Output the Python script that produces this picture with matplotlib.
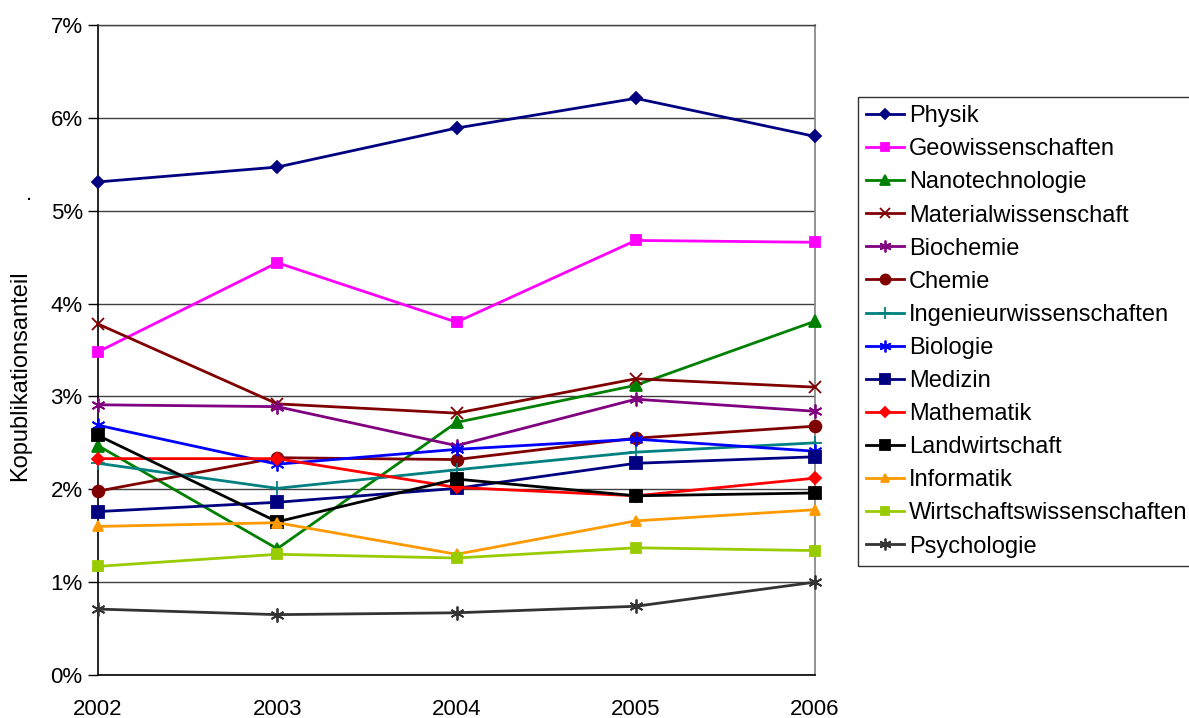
import matplotlib
matplotlib.use("Agg")
import matplotlib.pyplot as plt
from matplotlib.ticker import FuncFormatter

plt.rcParams['font.family'] = ['Liberation Sans', 'DejaVu Sans']

years = [2002, 2003, 2004, 2005, 2006]

physik = [5.31, 5.47, 5.89, 6.21, 5.80]
geowissenschaften = [3.48, 4.44, 3.80, 4.68, 4.66]
nanotechnologie = [2.47, 1.36, 2.72, 3.12, 3.81]
materialwissenschaft = [3.78, 2.92, 2.82, 3.19, 3.10]
biochemie = [2.91, 2.89, 2.47, 2.97, 2.84]
chemie = [1.98, 2.34, 2.32, 2.55, 2.68]
ingenieurwissenschaften = [2.28, 2.01, 2.21, 2.40, 2.50]
biologie = [2.69, 2.27, 2.43, 2.54, 2.41]
medizin = [1.76, 1.86, 2.01, 2.28, 2.35]
mathematik = [2.33, 2.33, 2.02, 1.93, 2.12]
landwirtschaft = [2.58, 1.65, 2.11, 1.93, 1.96]
informatik = [1.60, 1.64, 1.30, 1.66, 1.78]
wirtschaftswissenschaften = [1.17, 1.30, 1.26, 1.37, 1.34]
psychologie = [0.71, 0.65, 0.67, 0.74, 1.00]

asterisk = (6, 2, 0)

series = [
    ("Physik", physik, "#000080", "D", 6.5),
    ("Geowissenschaften", geowissenschaften, "#FF00FF", "s", 7.5),
    ("Nanotechnologie", nanotechnologie, "#008000", "^", 8.5),
    ("Materialwissenschaft", materialwissenschaft, "#800000", "x", 9),
    ("Biochemie", biochemie, "#800080", asterisk, 10),
    ("Chemie", chemie, "#800000", "o", 8.5),
    ("Ingenieurwissenschaften", ingenieurwissenschaften, "#008080", "+", 10),
    ("Biologie", biologie, "#0000FF", asterisk, 10),
    ("Medizin", medizin, "#000080", "s", 8.5),
    ("Mathematik", mathematik, "#FF0000", "D", 6.5),
    ("Landwirtschaft", landwirtschaft, "#000000", "s", 8.5),
    ("Informatik", informatik, "#FF9900", "^", 7.5),
    ("Wirtschaftswissenschaften", wirtschaftswissenschaften, "#99CC00", "s", 7.5),
    ("Psychologie", psychologie, "#333333", asterisk, 10),
]

fig = plt.figure(figsize=(11.89, 7.18), dpi=100)
ax = fig.add_axes([98 / 1189, 1 - 675 / 718, (815 - 98) / 1189, (675 - 25) / 718])

for name, vals, color, marker, ms in series:
    ax.plot(years, vals, color=color, marker=marker, markersize=ms,
            linewidth=2.0, markeredgewidth=1.3, label=name, clip_on=False, zorder=3)

ax.set_xlim(2002, 2006)
ax.set_ylim(0, 7)
ax.set_xticks(years)
ax.set_yticks(range(0, 8))
ax.yaxis.set_major_formatter(FuncFormatter(lambda v, p: f"{int(v)}%"))
ax.tick_params(axis='y', labelsize=16, length=7, width=1, direction='out', pad=4)
ax.tick_params(axis='x', labelsize=16, direction='out', length=0, pad=17)

ax.yaxis.grid(True, color='#404040', linewidth=1.0, zorder=0)
ax.set_axisbelow(True)
for side in ('left', 'bottom'):
    ax.spines[side].set_color('black')
    ax.spines[side].set_linewidth(1.2)
ax.spines['right'].set_color('#808080')
ax.spines['right'].set_linewidth(1.2)
ax.spines['top'].set_color('#404040')
ax.spines['top'].set_linewidth(1.0)

fig.text(20 / 1189, 1 - 376 / 718, "Kopublikationsanteil", rotation=90,
         ha='center', va='center', fontsize=17)
fig.text(29 / 1189, 1 - 195 / 718, ".", ha='center', va='center', fontsize=16)

leg = ax.legend(loc='upper left', bbox_to_anchor=(858 / 1189, 1 - 97 / 718),
                bbox_transform=fig.transFigure, frameon=True, fancybox=False,
                edgecolor='black', fontsize=17, handlelength=1.6,
                handletextpad=0.2, labelspacing=0.47, borderpad=0.35,
                borderaxespad=0, markerscale=0.85)
leg.get_frame().set_linewidth(1.0)

fig.savefig("out.png", dpi=100)
